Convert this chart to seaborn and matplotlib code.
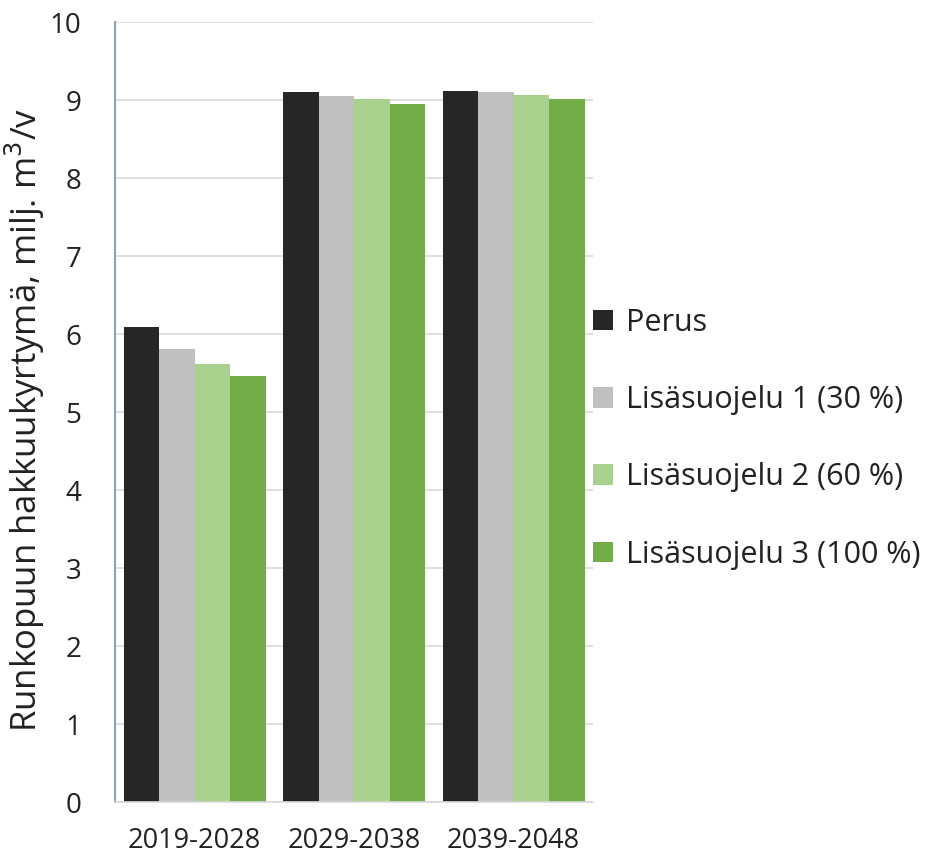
import matplotlib
matplotlib.use('Agg')
import matplotlib.pyplot as plt
import pandas as pd
import seaborn as sns

periods = ['2019-2028', '2029-2038', '2039-2048']
series = ['Perus', 'Lisäsuojelu 1 (30 %)', 'Lisäsuojelu 2 (60 %)', 'Lisäsuojelu 3 (100 %)']
perus = [6.09, 9.11, 9.12]
lisa1 = [5.81, 9.05, 9.10]
lisa2 = [5.62, 9.01, 9.07]
lisa3 = [5.46, 8.95, 9.02]
colors = ['#262626', '#bfbfbf', '#a9d18e', '#70ad47']


def build_frame():
    rows = []
    for name, vals in zip(series, [perus, lisa1, lisa2, lisa3]):
        for p, v in zip(periods, vals):
            rows.append({'period': p, 'series': name, 'value': v})
    return pd.DataFrame(rows)


def main():
    sns.set_style('white')
    plt.rcParams['font.family'] = ['Open Sans', 'DejaVu Sans']
    df = build_frame()

    fig = plt.figure(figsize=(9.33, 8.57), dpi=100)
    ax = fig.add_axes([0.123, 0.064, 0.513, 0.910])
    sns.barplot(data=df, x='period', y='value', hue='series', hue_order=series,
                palette=colors, width=0.89, gap=0, saturation=1, ax=ax,
                errorbar=None, linewidth=0)

    ax.set_ylim(0, 10)
    ax.set_yticks(range(0, 11))
    ax.yaxis.grid(True, color='#d9d9d9', linewidth=1.2)
    ax.set_axisbelow(True)
    for s in ['top', 'right']:
        ax.spines[s].set_visible(False)
    ax.spines['left'].set_color('#8f9fb5')
    ax.spines['left'].set_linewidth(1.5)
    ax.spines['bottom'].set_color('#d9d9d9')
    ax.spines['bottom'].set_linewidth(1.2)
    ax.tick_params(axis='x', length=0, labelsize=19.5, colors='#222222', pad=18)
    ax.tick_params(axis='y', length=0, labelsize=20, colors='#222222', pad=24)
    ax.set_xlabel('')
    ax.set_ylabel('Runkopuun hakkuukyrtymä, milj. m$^3$/v', fontsize=25,
                  color='#222222')
    ax.yaxis.set_label_coords(-0.142, 0.49)

    ax.legend(loc='center left', bbox_to_anchor=(1.0, 0.466), frameon=False,
              fontsize=22, handlelength=0.65, handleheight=0.65, handletextpad=0.42,
              labelspacing=1.55, borderaxespad=0, borderpad=0)
    for t in ax.get_legend().get_texts():
        t.set_color('#222222')

    fig.savefig('out.png', dpi=100)


if __name__ == '__main__':
    main()
